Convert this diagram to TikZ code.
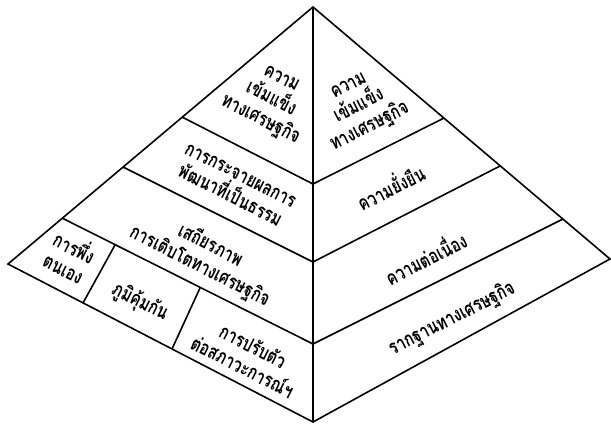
\documentclass[tikz,border=0pt]{standalone}
\usepackage{fontspec}
\newfontfamily\thaifont[Script=Thai]{Loma}
\begin{document}
\begin{tikzpicture}[x=1pt,y=-1pt,
  edge/.style={draw=black,line width=1.6pt,line join=miter},
  lbl/.style={font=\thaifont\bfseries\fontsize{16}{18.5}\selectfont,align=center,inner sep=0pt},
  lft/.style={lbl,rotate=-27,xscale=0.95,yscale=1.25},
  rgt/.style={lbl,rotate=27,xscale=0.95,yscale=1.25}]
\useasboundingbox[fill=white] (0,0) rectangle (611,426);
\coordinate (A) at (313,7);
\coordinate (L) at (8,264);
\coordinate (B) at (313,422);
\coordinate (R) at (610,259);
\coordinate (C1) at (313,184);
\coordinate (C2) at (313,262);
\coordinate (C3) at (313,344);
\coordinate (L1) at (182,117);
\coordinate (L2) at (123,167);
\coordinate (L3) at (62,218);
\coordinate (R1) at (444,118);
\coordinate (R2) at (500,166);
\coordinate (R3) at (563,219);
\coordinate (P1) at (115,245);
\coordinate (Q1) at (83,303);
\coordinate (P2) at (200,288);
\coordinate (Q2) at (172,349);
\draw[edge] (A) -- (L) -- (B) -- (R) -- cycle;
\draw[edge] (A) -- (B);
\draw[edge] (L1) -- (C1) -- (R1);
\draw[edge] (L2) -- (C2) -- (R2);
\draw[edge] (L3) -- (C3) -- (R3);
\draw[edge] (P1) -- (Q1);
\draw[edge] (P2) -- (Q2);
% left face
\node[lft] (t1) at (270,101) {ความ\\เข้มแข็ง\\ทางเศรษฐกิจ};
\node[lft] (t2) at (235,186) {การกระจายผลการ\\พัฒนาที่เป็นธรรม};
\node[lft] (t3) at (205,256) {เสถียรภาพ\\การเติบโตทางเศรษฐกิจ};
\node[lft] (t4) at (70,256) {การพึ่ง\\ตนเอง};
\node[lft] (t5) at (140,302) {ภูมิคุ้มกัน};
\node[lft] (t6) at (248,356) {การปรับตัว\\ต่อสภาวะการณ์ฯ};
% right face
\node[rgt] (s1) at (360,108) {ความ\\เข้มแข็ง\\ทางเศรษฐกิจ};
\node[rgt] (s2) at (390,186) {ความยั่งยืน};
\node[rgt] (s3) at (425,257) {ความต่อเนื่อง};
\node[rgt] (s4) at (452,319) {รากฐานทางเศรษฐกิจ};
\end{tikzpicture}
\end{document}
